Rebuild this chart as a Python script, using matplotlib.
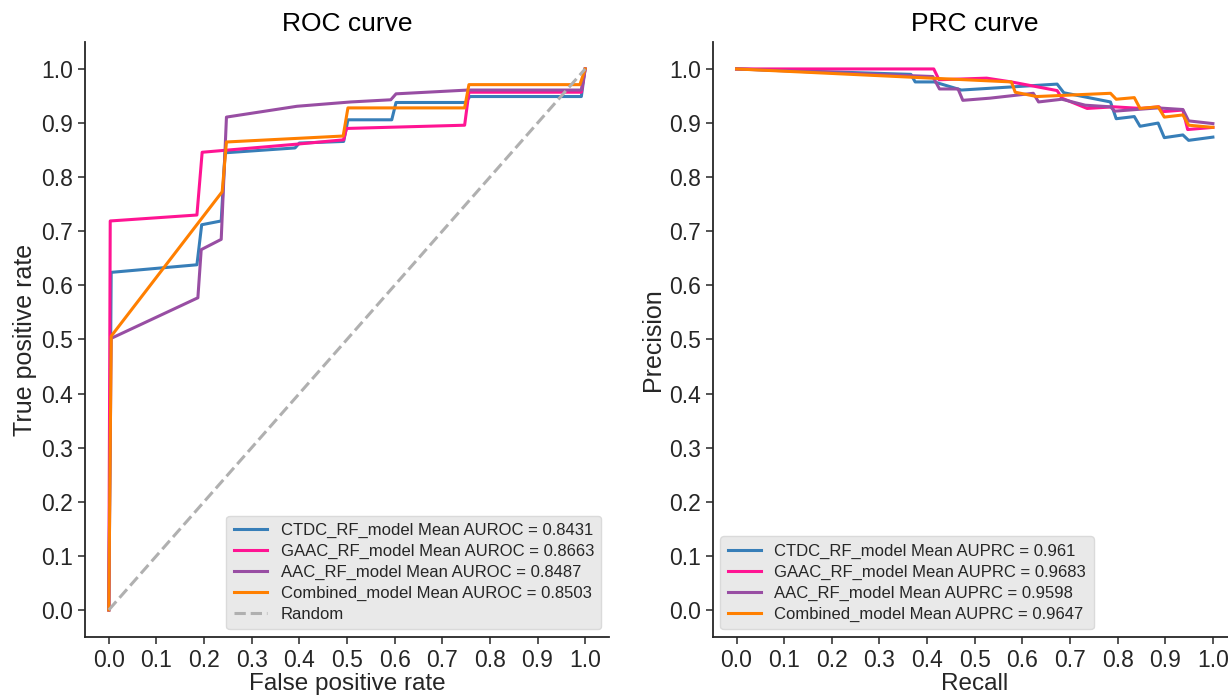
import matplotlib
matplotlib.use('Agg')
import matplotlib.pyplot as plt

# model names and scores
models = ['CTDC_RF_model', 'GAAC_RF_model', 'AAC_RF_model', 'Combined_model']
auroc = ['0.8431', '0.8663', '0.8487', '0.8503']
auprc = ['0.961', '0.9683', '0.9598', '0.9647']
colors = ['#377eb8', '#ff1493', '#984ea3', '#ff7f00']

# ROC points (false positive rate, true positive rate)
ctdc_fpr = [0.0, 0.005, 0.185, 0.195, 0.236, 0.244, 0.391, 0.40, 0.493,
            0.502, 0.594, 0.603, 0.749, 0.758, 0.992, 1.0]
ctdc_tpr = [0.0, 0.624, 0.638, 0.712, 0.719, 0.845, 0.854, 0.863, 0.866,
            0.906, 0.906, 0.938, 0.938, 0.949, 0.949, 1.0]
gaac_fpr = [0.0, 0.003, 0.185, 0.196, 0.395, 0.493, 0.499, 0.747, 0.756,
            0.992, 1.0]
gaac_tpr = [0.0, 0.719, 0.730, 0.846, 0.861, 0.869, 0.890, 0.896, 0.957,
            0.957, 1.0]
aac_fpr = [0.0, 0.005, 0.187, 0.194, 0.236, 0.247, 0.395, 0.508, 0.592,
           0.603, 0.754, 0.992, 1.0]
aac_tpr = [0.0, 0.502, 0.577, 0.666, 0.685, 0.911, 0.931, 0.939, 0.943,
           0.954, 0.961, 0.961, 1.0]
comb_fpr = [0.0, 0.005, 0.238, 0.247, 0.492, 0.502, 0.747, 0.756, 0.989,
            1.0]
comb_tpr = [0.0, 0.506, 0.773, 0.865, 0.876, 0.928, 0.928, 0.971, 0.971,
            1.0]

# PRC points (recall, precision)
ctdc_rec = [0.0, 0.366, 0.375, 0.415, 0.472, 0.673, 0.687, 0.785, 0.797,
            0.835, 0.847, 0.885, 0.898, 0.937, 0.949, 1.0]
ctdc_prec = [1.0, 0.990, 0.976, 0.976, 0.961, 0.972, 0.956, 0.939, 0.908,
             0.912, 0.894, 0.900, 0.873, 0.878, 0.868, 0.874]
gaac_rec = [0.0, 0.414, 0.425, 0.525, 0.577, 0.673, 0.683, 0.736, 0.792,
            0.849, 0.887, 0.894, 0.937, 0.947, 1.0]
gaac_prec = [1.0, 1.0, 0.980, 0.983, 0.976, 0.960, 0.946, 0.927, 0.930,
             0.927, 0.930, 0.921, 0.924, 0.888, 0.892]
aac_rec = [0.0, 0.412, 0.426, 0.465, 0.475, 0.532, 0.623, 0.634, 0.683,
           0.732, 0.785, 0.794, 0.884, 0.937, 0.949, 1.0]
aac_prec = [1.0, 0.986, 0.963, 0.963, 0.942, 0.946, 0.955, 0.939, 0.944,
            0.933, 0.930, 0.922, 0.928, 0.925, 0.904, 0.899]
comb_rec = [0.0, 0.577, 0.585, 0.630, 0.785, 0.797, 0.835, 0.847, 0.885,
            0.898, 0.937, 0.949, 1.0]
comb_prec = [1.0, 0.976, 0.957, 0.949, 0.955, 0.944, 0.947, 0.927, 0.930,
             0.911, 0.915, 0.896, 0.892]

random_x = [0.0, 1.0]
random_y = [0.0, 1.0]

TEXT = '#262626'
plt.rcParams['font.family'] = ['Liberation Sans', 'DejaVu Sans']


def style_axes(ax, title, xlabel, ylabel):
    """Only left and bottom spines, seaborn-like ticks."""
    ax.spines['top'].set_visible(False)
    ax.spines['right'].set_visible(False)
    for side in ['left', 'bottom']:
        ax.spines[side].set_color(TEXT)
        ax.spines[side].set_linewidth(1.3)
    ax.set_xticks([i / 10 for i in range(11)])
    ax.set_yticks([i / 10 for i in range(11)])
    ax.tick_params(labelsize=16.5, colors=TEXT, length=5, width=1.1,
                   direction='out')
    ax.set_title(title, fontsize=19, color='black', pad=8)
    ax.set_xlabel(xlabel, fontsize=17.5, color=TEXT, labelpad=1)
    ax.set_ylabel(ylabel, fontsize=18, color=TEXT, labelpad=3)


def draw_legend(ax, loc):
    leg = ax.legend(loc=loc, prop={'size': 12},
                    facecolor='#e9e9e9', edgecolor='#dadada',
                    framealpha=1, handlelength=2.0, borderpad=0.45,
                    labelspacing=0.35, borderaxespad=0.45)
    for txt in leg.get_texts():
        txt.set_color(TEXT)
    leg.get_frame().set_linewidth(1.0)


fig = plt.figure(figsize=(12.28, 6.96), dpi=100)
ax1 = fig.add_axes([0.0692, 0.0848, 0.4267, 0.855])
ax2 = fig.add_axes([0.5804, 0.0848, 0.4267, 0.855])

roc = [(ctdc_fpr, ctdc_tpr), (gaac_fpr, gaac_tpr),
       (aac_fpr, aac_tpr), (comb_fpr, comb_tpr)]
prc = [(ctdc_rec, ctdc_prec), (gaac_rec, gaac_prec),
       (aac_rec, aac_prec), (comb_rec, comb_prec)]

for i in range(4):
    ax1.plot(roc[i][0], roc[i][1], color=colors[i], lw=2.2,
             label=models[i] + ' Mean AUROC = ' + auroc[i])
ax1.plot(random_x, random_y, color='#b0b0b0', lw=2.2, ls='--',
         label='Random')
ax1.set_xlim(-0.05, 1.05)
ax1.set_ylim(-0.05, 1.05)
style_axes(ax1, 'ROC curve', 'False positive rate', 'True positive rate')
draw_legend(ax1, 'lower right')

for i in range(4):
    ax2.plot(prc[i][0], prc[i][1], color=colors[i], lw=2.2,
             label=models[i] + ' Mean AUPRC = ' + auprc[i])
ax2.set_xlim(-0.05, 1.05)
ax2.set_ylim(-0.05, 1.05)
style_axes(ax2, 'PRC curve', 'Recall', 'Precision')
draw_legend(ax2, 'lower left')

fig.savefig('out.png', dpi=100)
